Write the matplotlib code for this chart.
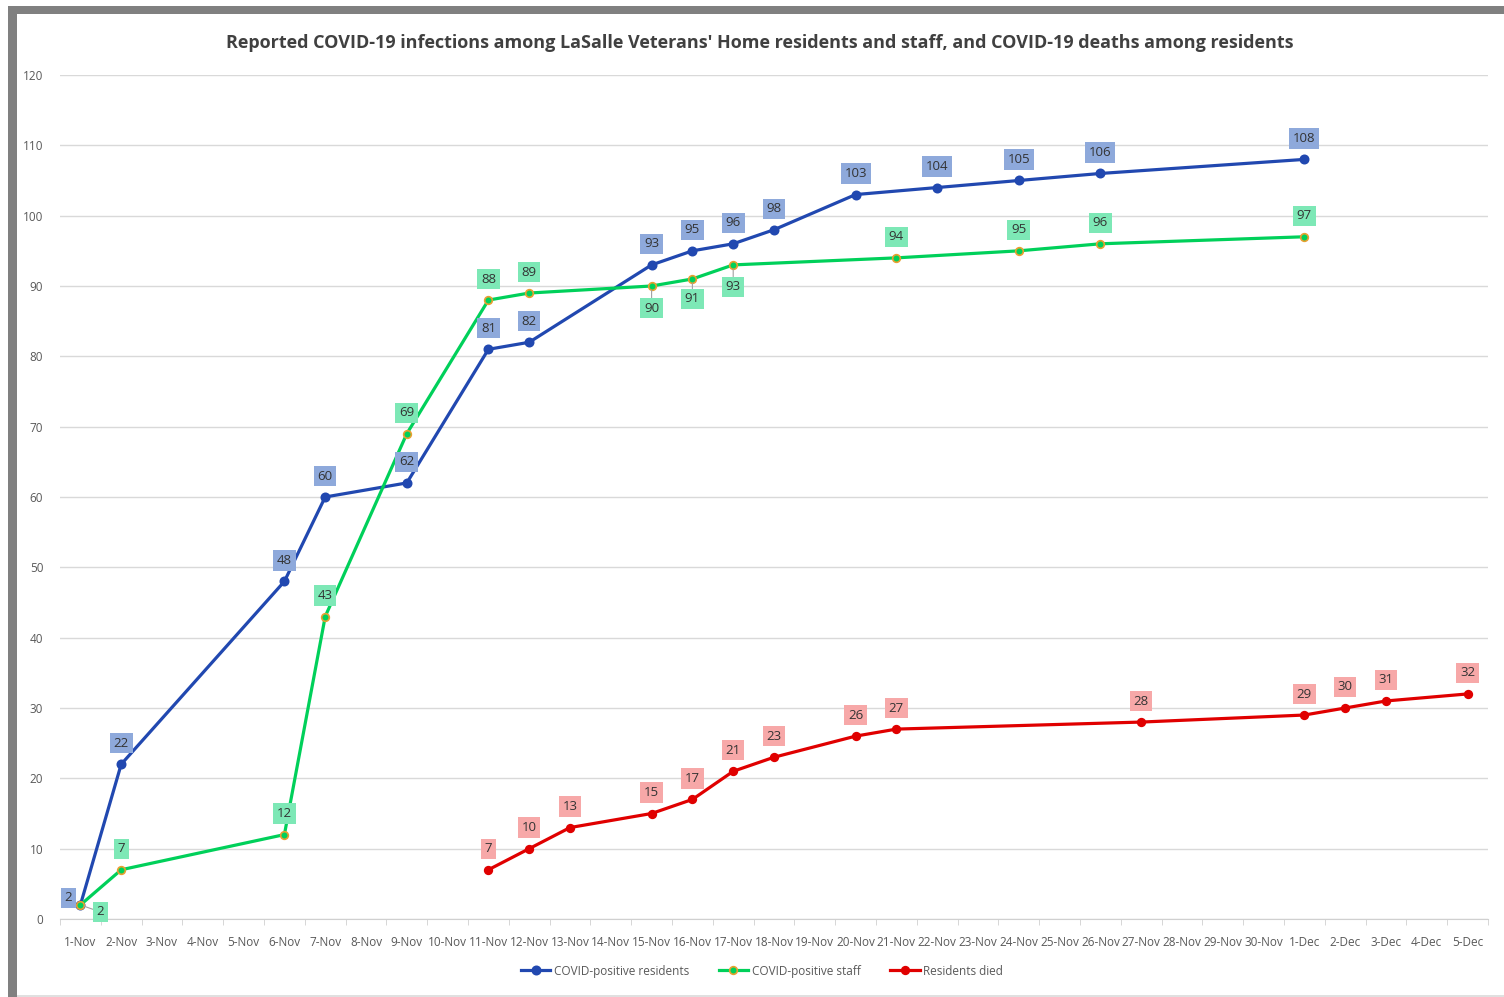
import matplotlib
matplotlib.use("Agg")
import matplotlib.pyplot as plt
from matplotlib.patches import Rectangle
import numpy as np

plt.rcParams['font.family'] = ['Open Sans', 'DejaVu Sans']

dates = ["1-Nov", "2-Nov", "3-Nov", "4-Nov", "5-Nov", "6-Nov", "7-Nov", "8-Nov", "9-Nov", "10-Nov",
         "11-Nov", "12-Nov", "13-Nov", "14-Nov", "15-Nov", "16-Nov", "17-Nov", "18-Nov", "19-Nov", "20-Nov",
         "21-Nov", "22-Nov", "23-Nov", "24-Nov", "25-Nov", "26-Nov", "27-Nov", "28-Nov", "29-Nov", "30-Nov",
         "1-Dec", "2-Dec", "3-Dec", "4-Dec", "5-Dec"]

N = None
residents = [2, 22, N, N, N, 48, 60, N, 62, N, 81, 82, N, N, 93, 95, 96, 98, N, 103,
             N, 104, N, 105, N, 106, N, N, N, N, 108, N, N, N, N]
staff = [2, 7, N, N, N, 12, 43, N, 69, N, 88, 89, N, N, 90, 91, 93, N, N, N,
         94, N, N, 95, N, 96, N, N, N, N, 97, N, N, N, N]
died = [N, N, N, N, N, N, N, N, N, N, 7, 10, 13, N, 15, 17, 21, 23, N, 26,
        27, N, N, N, N, N, 28, N, N, N, 29, 30, 31, N, 32]

series_names = ["COVID-positive residents", "COVID-positive staff", "Residents died"]

# styles
line_colors = ["#2148B0", "#00D05A", "#E00000"]
marker_face = ["#2148B0", "#00D05A", "#E00000"]
marker_edge = ["#2148B0", "#E8A030", "#E00000"]
marker_size = [6, 5.5, 5.5]
box_colors = ["#8EA9DB", "#7DE8B6", "#F7A8A8"]
# label offsets in pixels (special cases by category index)
special_offsets = [
    {0: (-12, 7)},
    {0: (20, -7), 14: (0, -22), 15: (0, -20), 16: (0, -22)},
    {},
]

W, H = 1504, 997
fig = plt.figure(figsize=(W / 100, H / 100), dpi=100)
ax = fig.add_axes([60 / W, 1 - 919 / H, (1488 - 60) / W, (919 - 75) / H])

# frame
fig.patches.append(Rectangle((8 / W, 0), 9 / W, 1 - 6 / H, transform=fig.transFigure,
                             facecolor="#808080", edgecolor="none", zorder=0))
fig.patches.append(Rectangle((8 / W, 1 - 14 / H), 1, 8 / H, transform=fig.transFigure,
                             facecolor="#808080", edgecolor="none", zorder=0))
fig.patches.append(Rectangle((17 / W, 0), 1, 2 / H, transform=fig.transFigure,
                             facecolor="#E0E0E0", edgecolor="none", zorder=0))

handles = []
for k, data in enumerate([residents, staff, died]):
    xs = [i for i, v in enumerate(data) if v is not None]
    ys = [v for v in data if v is not None]
    h, = ax.plot(xs, ys, color=line_colors[k], lw=2.3, marker="o", ms=marker_size[k],
                 mfc=marker_face[k], mec=marker_edge[k], mew=1.2, zorder=3 + k,
                 label=series_names[k])
    handles.append(h)
    for x, y in zip(xs, ys):
        off = special_offsets[k].get(x, (0, 21))
        below = off[1] < 0
        ap = None
        if below:
            ap = dict(arrowstyle="-", color="#A0A0A0", lw=0.8, shrinkA=0, shrinkB=3)
        ax.annotate(str(y), (x, y), xytext=off, textcoords="offset pixels",
                    ha="center", va="center", fontsize=9.5, color="#333333",
                    bbox=dict(boxstyle="square,pad=0.28", fc=box_colors[k], ec="none"),
                    arrowprops=ap, zorder=10)

ax.set_xlim(-0.5, len(dates) - 0.5)
ax.set_ylim(0, 120)
ax.set_yticks(np.arange(0, 121, 10))
ax.set_xticks(np.arange(len(dates)))
ax.set_xticklabels(dates)
ax.set_xticks(np.arange(-0.5, len(dates), 1), minor=True)
ax.tick_params(axis="x", which="major", length=0, pad=12, labelsize=8.5, labelcolor="#595959")
ax.tick_params(axis="x", which="minor", length=4, color="#D0D0D0", direction="out")
ax.tick_params(axis="y", length=0, pad=12, labelsize=8.5, labelcolor="#595959")
ax.grid(axis="y", color="#D9D9D9", lw=1)
ax.set_axisbelow(True)
for s in ["left", "right", "top"]:
    ax.spines[s].set_visible(False)
ax.spines["bottom"].set_color("#D0D0D0")

fig.text(760 / W, 1 - 43 / H,
         "Reported COVID-19 infections among LaSalle Veterans' Home residents and staff, and COVID-19 deaths among residents",
         ha="center", va="center", fontsize=13, fontweight="bold", color="#404040")

fig.legend(handles=handles, loc="center", bbox_to_anchor=(762 / W, 1 - 971 / H), ncol=3,
           frameon=False, fontsize=8.5, labelcolor="#595959", handlelength=2.5,
           columnspacing=2.5, handletextpad=0.3)

fig.savefig("out.png", dpi=100)
